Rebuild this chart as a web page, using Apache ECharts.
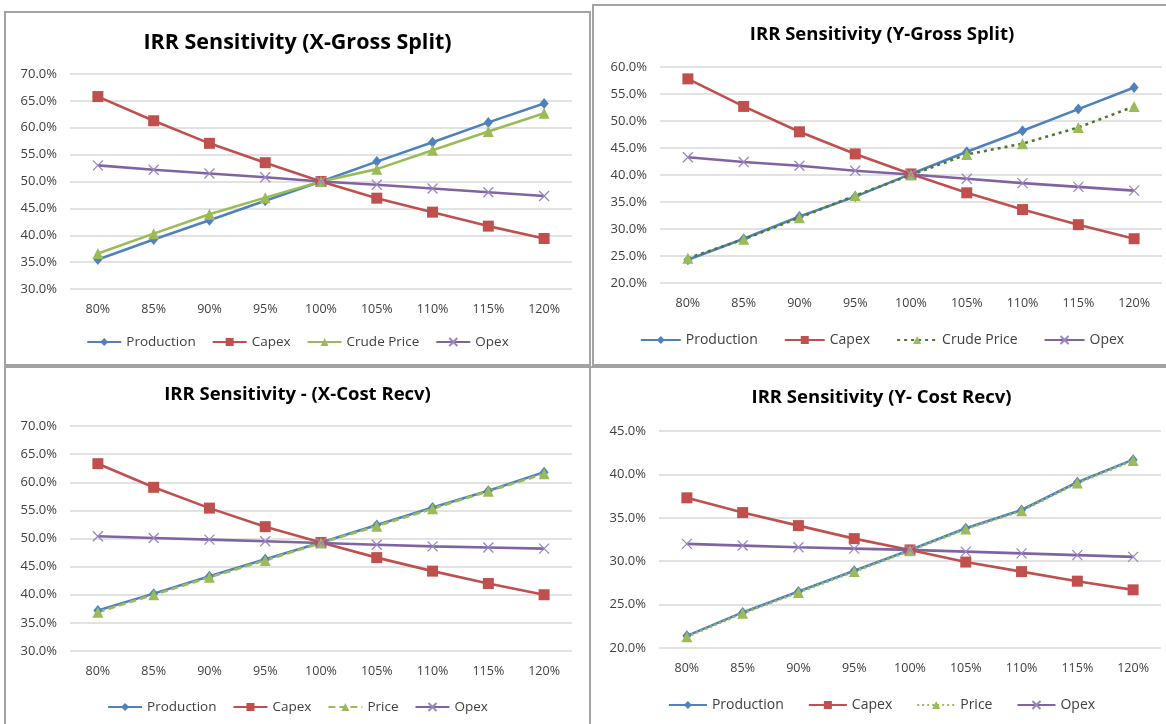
<!DOCTYPE html>
<html>
<head>
<meta charset="utf-8">
<script src="https://cdn.jsdelivr.net/npm/echarts@6/dist/echarts.min.js"></script>
<style>
  html, body { margin: 0; padding: 0; background: #fff; }
  body { width: 1166px; height: 724px; position: relative; overflow: hidden; }
  .panel { position: absolute; box-sizing: border-box; border: 2px solid #a3a3a3; background: #fff; }
  .chart { position: absolute; left: 0; top: 0; width: 100%; height: 100%; }
</style>
</head>
<body>
<div class="panel" id="p1" style="left:4px;top:11px;width:587px;height:355px;"><div class="chart" id="c1"></div></div>
<div class="panel" id="p2" style="left:592px;top:4px;width:580px;height:362px;"><div class="chart" id="c2"></div></div>
<div class="panel" id="p3" style="left:4px;top:366px;width:587px;height:365px;"><div class="chart" id="c3"></div></div>
<div class="panel" id="p4" style="left:589px;top:366px;width:585px;height:365px;"><div class="chart" id="c4"></div></div>
<script>
// ---- shared categories ----
const categories = ['80%', '85%', '90%', '95%', '100%', '105%', '110%', '115%', '120%'];

// ---- Chart 1: IRR Sensitivity (X-Gross Split) ----
const title1 = 'IRR Sensitivity (X-Gross Split)';
const c1Production = [35.5, 39.2, 42.8, 46.4, 50.0, 53.7, 57.3, 61.0, 64.5];
const c1Capex      = [65.8, 61.3, 57.1, 53.5, 50.0, 46.9, 44.3, 41.7, 39.4];
const c1Crude      = [36.6, 40.3, 43.9, 47.0, 50.0, 52.3, 55.8, 59.3, 62.7];
const c1Opex       = [53.0, 52.2, 51.5, 50.8, 50.0, 49.4, 48.7, 48.0, 47.3];
const c1Ticks = { min: 30, max: 70, step: 5 };

// ---- Chart 2: IRR Sensitivity (Y-Gross Split) ----
const title2 = 'IRR Sensitivity (Y-Gross Split)';
const c2Production = [24.3, 28.2, 32.3, 36.0, 40.2, 44.3, 48.2, 52.2, 56.2];
const c2Capex      = [57.8, 52.7, 48.0, 43.9, 40.2, 36.7, 33.6, 30.8, 28.2];
const c2Crude      = [24.6, 28.1, 32.1, 36.2, 40.0, 43.8, 45.8, 48.8, 52.7];
const c2Opex       = [43.3, 42.4, 41.7, 40.8, 40.1, 39.3, 38.5, 37.8, 37.1];
const c2Ticks = { min: 20, max: 60, step: 5 };

// ---- Chart 3: IRR Sensitivity - (X-Cost Recv) ----
const title3 = 'IRR Sensitivity - (X-Cost Recv)';
const c3Production = [37.2, 40.2, 43.3, 46.3, 49.3, 52.4, 55.5, 58.5, 61.8];
const c3Capex      = [63.3, 59.1, 55.4, 52.1, 49.3, 46.6, 44.2, 42.0, 40.0];
const c3Price      = [36.9, 40.0, 43.1, 46.1, 49.2, 52.2, 55.3, 58.4, 61.5];
const c3Opex       = [50.4, 50.1, 49.8, 49.5, 49.2, 48.9, 48.6, 48.4, 48.2];
const c3Ticks = { min: 30, max: 70, step: 5 };

// ---- Chart 4: IRR Sensitivity (Y- Cost Recv) ----
const title4 = 'IRR Sensitivity (Y- Cost Recv)';
const c4Production = [21.4, 24.1, 26.5, 28.9, 31.3, 33.8, 35.9, 39.1, 41.7];
const c4Capex      = [37.3, 35.6, 34.1, 32.6, 31.3, 29.9, 28.8, 27.7, 26.7];
const c4Price      = [21.3, 24.0, 26.4, 28.8, 31.2, 33.7, 35.8, 39.0, 41.6];
const c4Opex       = [32.0, 31.8, 31.6, 31.45, 31.3, 31.1, 30.9, 30.7, 30.5];
const c4Ticks = { min: 20, max: 45, step: 5 };

const BLUE = '#4F81BD', RED = '#C0504D', GREEN = '#9BBB59', DKGREEN = '#4F7A28', PURPLE = '#8064A2';
const XPATH = 'path://M0,0 L10,10 M10,0 L0,10';
const FONT = '"Open Sans", Lato, sans-serif';

function series(name, data, opt) {
  return {
    name: name, type: 'line', data: data,
    symbol: opt.symbol, symbolSize: opt.size,
    lineStyle: { color: opt.line || opt.color, width: 2.6, type: opt.dash || 'solid' },
    itemStyle: Object.assign({ color: opt.color }, opt.item || {}),
    emphasis: { disabled: true },
    z: opt.z || 2
  };
}

function build(el, cfg) {
  const chart = echarts.init(document.getElementById(el), null, { renderer: 'canvas' });
  chart.setOption({
    animation: false,
    title: {
      text: cfg.title, left: 'center', top: cfg.titleTop,
      textStyle: { fontFamily: FONT, fontWeight: 'bold', fontSize: cfg.titleSize, color: '#000' }
    },
    legend: {
      bottom: cfg.legendBottom, left: cfg.legendLeft || 'center',
      itemWidth: cfg.legendItemWidth || 34, itemHeight: 10, itemGap: cfg.legendGap || 16,
      textStyle: { fontFamily: FONT, fontSize: cfg.legendFont || 13.5, color: '#404040' },
      data: cfg.series.map(s => s.name)
    },
    grid: cfg.grid,
    xAxis: {
      type: 'category', data: categories, boundaryGap: true,
      axisLine: { show: false }, axisTick: { show: false },
      axisLabel: { fontFamily: FONT, fontSize: 12.5, color: '#404040', margin: 14 }
    },
    yAxis: {
      type: 'value', min: cfg.ticks.min, max: cfg.ticks.max, interval: cfg.ticks.step,
      axisLine: { show: false }, axisTick: { show: false },
      axisLabel: { fontFamily: FONT, fontSize: 13, color: '#404040', margin: 13,
        formatter: v => v.toFixed(1) + '%' },
      splitLine: { lineStyle: { color: '#d9d9d9', width: 1.5 } }
    },
    series: cfg.series
  });
}

build('c1', {
  title: title1, titleTop: 14, titleSize: 21.5, legendBottom: 10,
  grid: { left: 64, width: 502, top: 61, height: 215 },
  ticks: c1Ticks,
  series: [
    series('Production', c1Production, { color: BLUE, symbol: 'diamond', size: [9, 11] }),
    series('Capex', c1Capex, { color: RED, symbol: 'rect', size: 11 }),
    series('Crude Price', c1Crude, { color: GREEN, symbol: 'triangle', size: 11 }),
    series('Opex', c1Opex, { color: PURPLE, symbol: XPATH, size: 10, item: { borderColor: '#9a86c0', borderWidth: 1.3 } })
  ]
});

build('c2', {
  title: title2, titleTop: 14, titleSize: 18.5, legendBottom: 12,
  legendItemWidth: 40, legendGap: 26, legendFont: 14,
  grid: { left: 66, width: 502, top: 61, height: 216 },
  ticks: c2Ticks,
  series: [
    series('Production', c2Production, { color: BLUE, symbol: 'diamond', size: [9, 11] }),
    series('Capex', c2Capex, { color: RED, symbol: 'rect', size: 11 }),
    series('Crude Price', c2Crude, { color: GREEN, line: DKGREEN, dash: [3, 4], symbol: 'triangle', size: 11 }),
    series('Opex', c2Opex, { color: PURPLE, symbol: XPATH, size: 10, item: { borderColor: '#9a86c0', borderWidth: 1.3 } })
  ]
});

build('c3', {
  title: title3, titleTop: 12, titleSize: 18.5, legendBottom: 10,
  grid: { left: 64, width: 502, top: 58, height: 225 },
  ticks: c3Ticks,
  series: [
    series('Production', c3Production, { color: BLUE, symbol: 'diamond', size: [9, 11] }),
    series('Capex', c3Capex, { color: RED, symbol: 'rect', size: 11 }),
    series('Price', c3Price, { color: GREEN, dash: [7, 4], symbol: 'triangle', size: 11 }),
    series('Opex', c3Opex, { color: PURPLE, symbol: XPATH, size: 10, item: { borderColor: '#9a86c0', borderWidth: 1.3 } })
  ]
});

build('c4', {
  title: title4, titleTop: 15, titleSize: 18.5, legendBottom: 12,
  legendItemWidth: 38, legendGap: 24, legendFont: 14,
  grid: { left: 68, width: 502, top: 63, height: 217 },
  ticks: c4Ticks,
  series: [
    series('Production', c4Production, { color: BLUE, symbol: 'diamond', size: [9, 11] }),
    series('Capex', c4Capex, { color: RED, symbol: 'rect', size: 11 }),
    series('Price', c4Price, { color: GREEN, dash: [2, 3], symbol: 'triangle', size: 11 }),
    series('Opex', c4Opex, { color: PURPLE, symbol: XPATH, size: 10, item: { borderColor: '#9a86c0', borderWidth: 1.3 } })
  ]
});
</script>
</body>
</html>
